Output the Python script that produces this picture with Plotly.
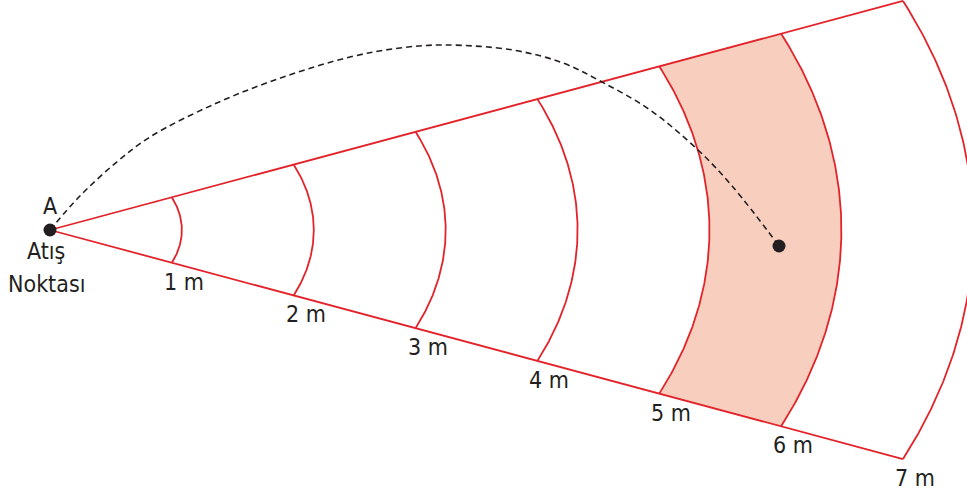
import numpy as np
import plotly.graph_objects as go

# ---- data (metres) ----
distances_m = [1, 2, 3, 4, 5, 6, 7]
distance_labels = ["1 m", "2 m", "3 m", "4 m", "5 m", "6 m", "7 m"]
half_angle_deg = 22.5
band_inner, band_outer = 5, 6

# throw trajectory (horizontal along axis, vertical in picture)
traj_x = [0.0, 0.227, 0.506, 0.758, 1.264, 1.769, 2.274, 2.653, 2.980, 3.510, 3.889, 4.185, 4.549, 4.913, 5.178, 5.527]
traj_y = [0.0, 0.398, 0.795, 1.088, 1.485, 1.789, 2.023, 2.129, 2.164, 2.105, 1.953, 1.731, 1.404, 0.936, 0.503, -0.187]
landing_x, landing_y = [5.527], [-0.187]
origin_x, origin_y = [0.0], [0.0]

RED = "#e3232a"
FILL = "#f8cfbf"
INK = "#231f20"
FONT = "Liberation Sans Narrow, DejaVu Sans Condensed, Lato, sans-serif"

ha = np.radians(half_angle_deg)
th = np.linspace(-ha, ha, 200)

fig = go.Figure()

# shaded band
bx = np.concatenate([band_inner * np.cos(th), band_outer * np.cos(th[::-1])])
by = np.concatenate([band_inner * np.sin(th), band_outer * np.sin(th[::-1])])
fig.add_trace(go.Scatter(x=bx, y=by, fill="toself", fillcolor=FILL, mode="none",
                         hoverinfo="skip", showlegend=False))

# arcs
for r in distances_m:
    fig.add_trace(go.Scatter(x=r * np.cos(th), y=r * np.sin(th), mode="lines",
                             line=dict(color=RED, width=1.8), hoverinfo="skip", showlegend=False))

# rays
rmax = max(distances_m)
for s in (1, -1):
    fig.add_trace(go.Scatter(x=[0, rmax * np.cos(ha)], y=[0, s * rmax * np.sin(ha)], mode="lines",
                             line=dict(color=RED, width=1.8), hoverinfo="skip", showlegend=False))

# trajectory
fig.add_trace(go.Scatter(x=traj_x, y=traj_y, mode="lines", line_shape="spline",
                         line=dict(color=INK, width=1.6, dash="6px,4px", smoothing=1.0),
                         hoverinfo="skip", showlegend=False))

# points
fig.add_trace(go.Scatter(x=origin_x + landing_x, y=origin_y + landing_y, mode="markers",
                         marker=dict(color=INK, size=13), hoverinfo="skip", showlegend=False))

# labels
for r, lab in zip(distances_m, distance_labels):
    fig.add_annotation(x=r * np.cos(ha), y=-r * np.sin(ha), text=lab, showarrow=False,
                       xshift=12, yshift=-19, font=dict(family=FONT, size=23, color=INK))

fig.add_annotation(x=0, y=0, text="A", showarrow=False, yshift=24,
                   font=dict(family=FONT, size=23, color=INK))
fig.add_annotation(x=0, y=0, text="Atış", showarrow=False, xshift=-4, yshift=-21,
                   font=dict(family=FONT, size=23, color=INK))
fig.add_annotation(x=0, y=0, text="Noktası", showarrow=False, xshift=-4, yshift=-54,
                   font=dict(family=FONT, size=23, color=INK))

px_per_m_x = 131.9
px_per_m_y = 85.5
x0_px, y0_px = 50, 230
W, H = 967, 496
fig.update_xaxes(range=[-x0_px / px_per_m_x, (W - x0_px) / px_per_m_x], visible=False)
fig.update_yaxes(range=[-(H - y0_px) / px_per_m_y, y0_px / px_per_m_y], visible=False)
fig.update_layout(width=W, height=H, margin=dict(l=0, r=0, t=0, b=0),
                  paper_bgcolor="white", plot_bgcolor="white", hovermode=False)

# remove the default page margin so the figure fills the window from the corner
fig.write_html("out.html",
               config={"displayModeBar": False, "staticPlot": True},
               post_script="document.body.style.margin='0';document.body.style.overflow='hidden';")
